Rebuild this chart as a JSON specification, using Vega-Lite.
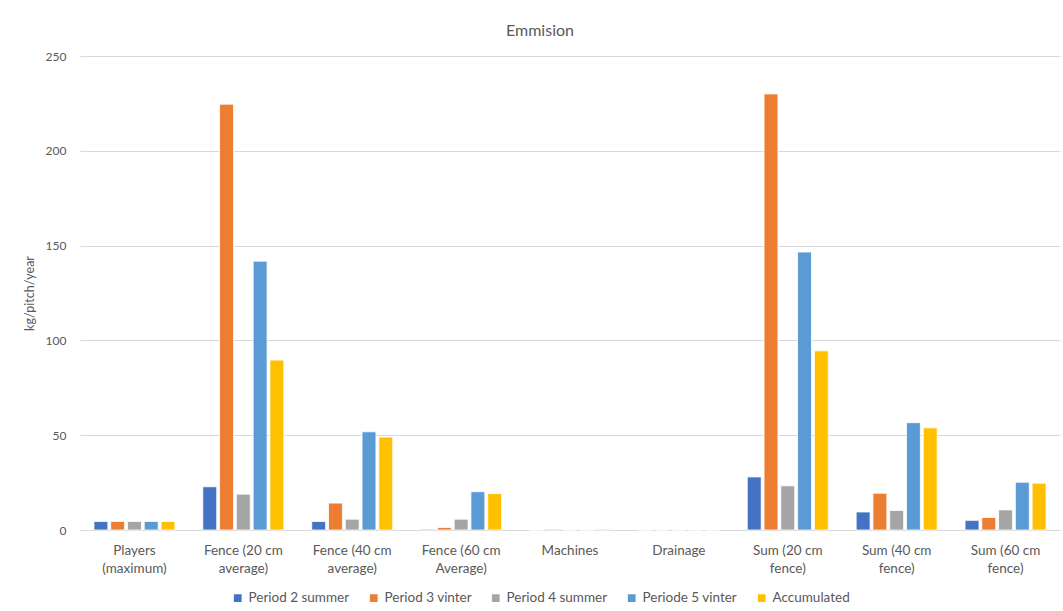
{
  "$schema": "https://vega.github.io/schema/vega-lite/v6.json",
  "width": 980,
  "height": 474,
  "autosize": "none",
  "padding": {"left": 80, "top": 56, "right": 3, "bottom": 81},
  "background": "white",
  "title": {"text": "Emmision", "fontSize": 16, "font": "Lato", "fontWeight": "normal", "color": "#595959", "dx": -30, "offset": 11},
  "config": {
    "font": "Lato",
    "view": {"stroke": null},
    "axis": {"labelFont": "Lato", "labelFontSize": 12.5, "labelColor": "#595959", "titleFont": "Lato", "titleColor": "#595959", "titleFontWeight": "normal", "titleFontSize": 12.5},
    "legend": {"labelFont": "Lato", "labelFontSize": 13.5, "labelColor": "#595959"}
  },
  "data": {
    "values": [
      {"category": "Players (maximum)", "series": "Period 2 summer", "value": 4.5},
      {"category": "Players (maximum)", "series": "Period 3 vinter", "value": 4.5},
      {"category": "Players (maximum)", "series": "Period 4 summer", "value": 4.5},
      {"category": "Players (maximum)", "series": "Periode 5 vinter", "value": 4.5},
      {"category": "Players (maximum)", "series": "Accumulated", "value": 4.5},
      {"category": "Fence (20 cm average)", "series": "Period 2 summer", "value": 22.8},
      {"category": "Fence (20 cm average)", "series": "Period 3 vinter", "value": 224.6},
      {"category": "Fence (20 cm average)", "series": "Period 4 summer", "value": 18.9},
      {"category": "Fence (20 cm average)", "series": "Periode 5 vinter", "value": 141.8},
      {"category": "Fence (20 cm average)", "series": "Accumulated", "value": 89.6},
      {"category": "Fence (40 cm average)", "series": "Period 2 summer", "value": 4.5},
      {"category": "Fence (40 cm average)", "series": "Period 3 vinter", "value": 14.2},
      {"category": "Fence (40 cm average)", "series": "Period 4 summer", "value": 5.7},
      {"category": "Fence (40 cm average)", "series": "Periode 5 vinter", "value": 51.8},
      {"category": "Fence (40 cm average)", "series": "Accumulated", "value": 49.0},
      {"category": "Fence (60 cm Average)", "series": "Period 2 summer", "value": 0.4},
      {"category": "Fence (60 cm Average)", "series": "Period 3 vinter", "value": 1.3},
      {"category": "Fence (60 cm Average)", "series": "Period 4 summer", "value": 5.7},
      {"category": "Fence (60 cm Average)", "series": "Periode 5 vinter", "value": 20.2},
      {"category": "Fence (60 cm Average)", "series": "Accumulated", "value": 19.2},
      {"category": "Machines", "series": "Period 2 summer", "value": 0},
      {"category": "Machines", "series": "Period 3 vinter", "value": 0.4},
      {"category": "Machines", "series": "Period 4 summer", "value": 0},
      {"category": "Machines", "series": "Periode 5 vinter", "value": 0},
      {"category": "Machines", "series": "Accumulated", "value": 0.4},
      {"category": "Drainage", "series": "Period 2 summer", "value": 0},
      {"category": "Drainage", "series": "Period 3 vinter", "value": 0},
      {"category": "Drainage", "series": "Period 4 summer", "value": 0},
      {"category": "Drainage", "series": "Periode 5 vinter", "value": 0},
      {"category": "Drainage", "series": "Accumulated", "value": 0},
      {"category": "Sum (20 cm fence)", "series": "Period 2 summer", "value": 28.0},
      {"category": "Sum (20 cm fence)", "series": "Period 3 vinter", "value": 230.0},
      {"category": "Sum (20 cm fence)", "series": "Period 4 summer", "value": 23.3},
      {"category": "Sum (20 cm fence)", "series": "Periode 5 vinter", "value": 146.6},
      {"category": "Sum (20 cm fence)", "series": "Accumulated", "value": 94.5},
      {"category": "Sum (40 cm fence)", "series": "Period 2 summer", "value": 9.5},
      {"category": "Sum (40 cm fence)", "series": "Period 3 vinter", "value": 19.4},
      {"category": "Sum (40 cm fence)", "series": "Period 4 summer", "value": 10.3},
      {"category": "Sum (40 cm fence)", "series": "Periode 5 vinter", "value": 56.6},
      {"category": "Sum (40 cm fence)", "series": "Accumulated", "value": 53.9},
      {"category": "Sum (60 cm fence)", "series": "Period 2 summer", "value": 5.1},
      {"category": "Sum (60 cm fence)", "series": "Period 3 vinter", "value": 6.6},
      {"category": "Sum (60 cm fence)", "series": "Period 4 summer", "value": 10.6},
      {"category": "Sum (60 cm fence)", "series": "Periode 5 vinter", "value": 25.2},
      {"category": "Sum (60 cm fence)", "series": "Accumulated", "value": 24.7}
    ]
  },
  "mark": {"type": "bar", "stroke": "white", "strokeWidth": 0.8},
  "encoding": {
    "x": {
      "field": "category", "type": "nominal",
      "sort": ["Players (maximum)", "Fence (20 cm average)", "Fence (40 cm average)", "Fence (60 cm Average)", "Machines", "Drainage", "Sum (20 cm fence)", "Sum (40 cm fence)", "Sum (60 cm fence)"],
      "scale": {"paddingInner": 0.256, "paddingOuter": 0.128},
      "axis": {
        "title": null, "labelAngle": 0, "ticks": false, "domainColor": "#d9d9d9", "domainWidth": 1,
        "labelPadding": 13, "labelLineHeight": 18, "labelBaseline": "top", "labelFontSize": 13.5,
        "labelExpr": "indexof(datum.label, ' ') > 0 ? [substring(datum.label, 0, lastindexof(datum.label, ' ')), substring(datum.label, lastindexof(datum.label, ' ') + 1)] : datum.label"
      }
    },
    "xOffset": {
      "field": "series", "type": "nominal",
      "sort": ["Period 2 summer", "Period 3 vinter", "Period 4 summer", "Periode 5 vinter", "Accumulated"],
      "scale": {"paddingInner": 0.17, "paddingOuter": 0}
    },
    "y": {
      "field": "value", "type": "quantitative",
      "scale": {"domain": [0, 250]},
      "axis": {"title": "kg/pitch/year", "values": [0, 50, 100, 150, 200, 250], "domain": false, "ticks": false, "gridColor": "#d9d9d9", "labelPadding": 14, "titlePadding": 9, "labelFontSize": 12}
    },
    "color": {
      "field": "series", "type": "nominal",
      "sort": ["Period 2 summer", "Period 3 vinter", "Period 4 summer", "Periode 5 vinter", "Accumulated"],
      "scale": {"range": ["#4472C4", "#ED7D31", "#A5A5A5", "#5B9BD5", "#FFC000"]},
      "legend": {"title": null, "orient": "none", "direction": "horizontal", "legendX": 151, "legendY": 535, "symbolType": "square", "symbolSize": 60, "symbolStrokeWidth": 0, "columnPadding": 17, "labelOffset": 4}
    }
  }
}
